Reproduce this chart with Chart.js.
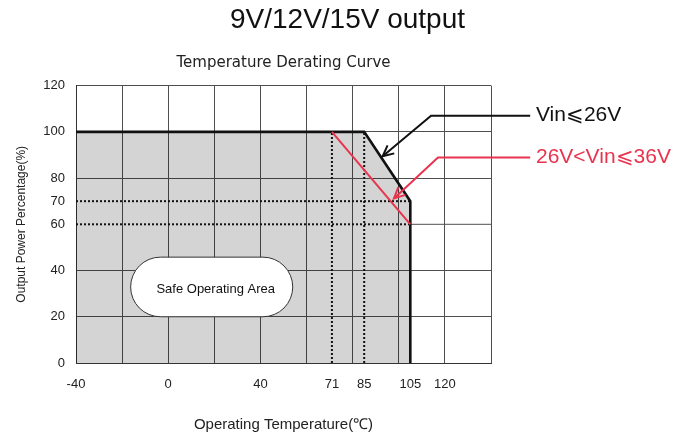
<!DOCTYPE html>
<html>
<head>
<meta charset="utf-8">
<script src="https://cdn.jsdelivr.net/npm/chart.js@4.4.1/dist/chart.umd.min.js"></script>
<style>
html, body { margin: 0; padding: 0; background: #fff; }
#wrap { width: 695px; height: 439px; }
</style>
</head>
<body>
<div id="wrap"><canvas id="derating" width="695" height="439"></canvas></div>
<script>
// derating curve values
const safeTemps = [-40, 85, 105, 105];
const safePower = [100, 100, 70, 0];
const highTemps = [71, 105];
const highPower = [100, 60];
const dotPower = [70, 60];   // dotted levels, run from -40 to 105
const dotTemps = [71, 85];   // dotted temps, run from 0 to 100

const xLabels = [-40, 0, 40, 71, 85, 105, 120];
const yLabels = [0, 20, 40, 60, 70, 80, 100, 120];
const xGrid = [-40, -20, 0, 20, 40, 60, 80, 100, 120, 140];
const yGrid = [0, 20, 40, 80, 100, 120];

const xAll = Array.from(new Set(xLabels.concat(xGrid))).sort((a, b) => a - b);
const yAll = Array.from(new Set(yLabels.concat(yGrid))).sort((a, b) => a - b);

// annotation positions in chart units
const blackNote = { text: 'Vin⩽26V', color: '#111', temps: [157, 114, 93], power: [107, 107, 89.4] };
const redNote = { text: '26V<Vin⩽36V', color: '#e8344e', temps: [157, 117, 97.9], power: [88.9, 88.9, 71.2] };
const noteTextTemp = 159.5;
const safeBox = { text: 'Safe Operating Area', temps: [-16.3, 54], power: [20, 45.8] };

const RED = '#e8344e';
const GRID = '#4f4f4f';

function pts(xs, ys) {
	return xs.map((v, i) => ({ x: v, y: ys[i] }));
}

function arrow(ctx, x, y, note) {
	const px = note.temps.map(v => x.getPixelForValue(v));
	const py = note.power.map(v => y.getPixelForValue(v));
	ctx.strokeStyle = note.color;
	ctx.lineWidth = 2;
	ctx.beginPath();
	ctx.moveTo(px[0], py[0]);
	ctx.lineTo(px[1], py[1]);
	ctx.lineTo(px[2], py[2]);
	ctx.stroke();
	const ang = Math.atan2(py[2] - py[1], px[2] - px[1]);
	const len = 12, a = 0.45;
	ctx.beginPath();
	ctx.moveTo(px[2] - len * Math.cos(ang - a), py[2] - len * Math.sin(ang - a));
	ctx.lineTo(px[2], py[2]);
	ctx.lineTo(px[2] - len * Math.cos(ang + a), py[2] - len * Math.sin(ang + a));
	ctx.stroke();
	ctx.fillStyle = note.color;
	ctx.font = '21px "Liberation Sans", Arial, sans-serif';
	ctx.textAlign = 'left';
	ctx.textBaseline = 'middle';
	ctx.fillText(note.text, x.getPixelForValue(noteTextTemp), py[0]);
}

const notesPlugin = {
	id: 'notes',
	afterDatasetsDraw(chart) {
		const ctx = chart.ctx, x = chart.scales.x, y = chart.scales.y;
		ctx.save();
		// safe operating area pill
		const l = x.getPixelForValue(safeBox.temps[0]), r = x.getPixelForValue(safeBox.temps[1]);
		const t = y.getPixelForValue(safeBox.power[1]), b = y.getPixelForValue(safeBox.power[0]);
		const rad = (b - t) / 2;
		ctx.beginPath();
		ctx.moveTo(l + rad, t);
		ctx.lineTo(r - rad, t);
		ctx.arc(r - rad, t + rad, rad, -Math.PI / 2, Math.PI / 2);
		ctx.lineTo(l + rad, b);
		ctx.arc(l + rad, t + rad, rad, Math.PI / 2, Math.PI * 1.5);
		ctx.closePath();
		ctx.fillStyle = '#fff';
		ctx.fill();
		ctx.strokeStyle = '#333';
		ctx.lineWidth = 1;
		ctx.stroke();
		ctx.fillStyle = '#111';
		ctx.font = '13px "Liberation Sans", Arial, sans-serif';
		ctx.textAlign = 'center';
		ctx.textBaseline = 'middle';
		ctx.fillText(safeBox.text, (l + r) / 2 + 4, (t + b) / 2 + 2);

		arrow(ctx, x, y, blackNote);
		arrow(ctx, x, y, redNote);
		ctx.restore();
	}
};

const dotted = {
	borderColor: '#111', borderWidth: 2, borderDash: [2, 2],
	pointRadius: 0, fill: false
};

const datasets = [
	{ data: pts(highTemps, highPower), borderColor: RED, borderWidth: 2, pointRadius: 0, fill: false },
	...dotPower.map(p => Object.assign({ data: pts([safeTemps[0], safeTemps[2]], [p, p]) }, dotted)),
	...dotTemps.map(t => Object.assign({ data: pts([t, t], [0, safePower[0]]) }, dotted)),
	{
		data: pts(safeTemps, safePower), borderColor: '#111', borderWidth: 2.6,
		borderJoinStyle: 'miter', pointRadius: 0,
		fill: 'origin', backgroundColor: 'rgba(0,0,0,0.17)', clip: false
	},
	// grid line at 60 only in the white area
	{ data: pts([safeTemps[2], xGrid[xGrid.length - 1]], [60, 60]), borderColor: GRID, borderWidth: 1, pointRadius: 0, fill: false }
];

Chart.defaults.font.family = '"Liberation Sans", Arial, sans-serif';
Chart.defaults.color = '#222';

new Chart(document.getElementById('derating'), {
	type: 'line',
	data: { datasets: datasets },
	options: {
		responsive: false,
		animation: false,
		layout: { padding: 0 },
		plugins: {
			legend: { display: false },
			tooltip: { enabled: false },
			title: {
				display: true,
				text: '9V/12V/15V output',
				color: '#111',
				font: { size: 28, weight: 'normal' },
				padding: { top: 3, bottom: 0 }
			},
			subtitle: {
				display: true,
				text: 'Temperature Derating Curve',
				fullSize: false,
				color: '#222',
				font: { size: 15, family: '"DejaVu Sans", sans-serif' },
				padding: { top: 18, bottom: 13 }
			}
		},
		scales: {
			x: {
				type: 'linear',
				min: -40,
				max: 140,
				afterBuildTicks: function(axis) {
					axis.ticks = xAll.map(v => ({ value: v }));
				},
				afterFit: function(axis) {
					axis.height = 76;
				},
				grid: {
					drawTicks: false,
					color: c => (c.tick && xGrid.includes(c.tick.value)) ? GRID : 'rgba(0,0,0,0)'
				},
				border: { color: '#333', width: 1 },
				ticks: {
					autoSkip: false,
					maxRotation: 0,
					padding: 14,
					color: '#222',
					font: { size: 13 },
					callback: v => xLabels.includes(v) ? String(v) : ''
				},
				title: {
					display: true,
					text: 'Operating Temperature(℃)',
					color: '#222',
					font: { size: 15 },
					padding: { top: 0, bottom: 5 }
				}
			},
			y: {
				type: 'linear',
				min: 0,
				max: 120,
				afterBuildTicks: function(axis) {
					axis.ticks = yAll.map(v => ({ value: v }));
				},
				afterFit: function(axis) {
					axis.width = 76;
				},
				grid: {
					drawTicks: false,
					color: c => (c.tick && yGrid.includes(c.tick.value)) ? GRID : 'rgba(0,0,0,0)'
				},
				border: { color: '#333', width: 1 },
				ticks: {
					autoSkip: false,
					padding: 11,
					color: '#222',
					font: { size: 13 },
					callback: v => yLabels.includes(v) ? String(v) : ''
				},
				title: {
					display: true,
					text: 'Output Power Percentage(%)',
					color: '#222',
					font: { size: 12 },
					padding: { top: 14, bottom: 0 }
				}
			},
			// empty right axis that keeps room for the Vin notes
			side: {
				type: 'linear',
				position: 'right',
				min: 0,
				max: 120,
				afterFit: function(axis) {
					axis.width = 204;
				},
				grid: { display: false, drawTicks: false },
				border: { display: false },
				ticks: { display: false }
			}
		}
	},
	plugins: [notesPlugin]
});
</script>
</body>
</html>
